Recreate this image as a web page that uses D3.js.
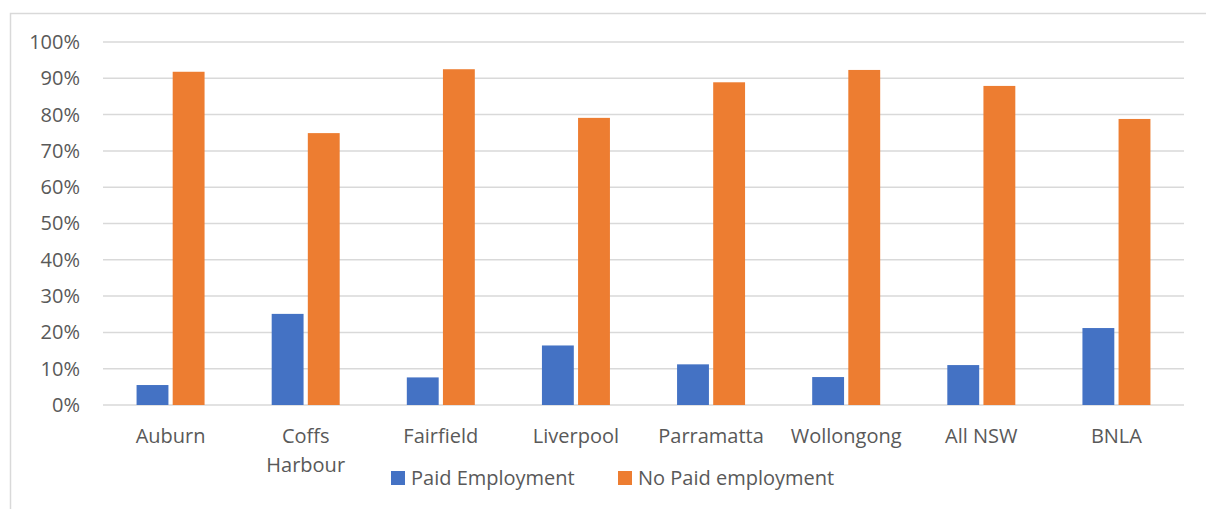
<!DOCTYPE html>
<html>
<head>
<meta charset="utf-8">
<script src="https://cdn.jsdelivr.net/npm/d3@7"></script>
<style>
  html, body { margin: 0; padding: 0; background: #fff; }
  svg { display: block; }
  text { font-family: "Open Sans", Lato, sans-serif; fill: #595959; }
</style>
</head>
<body>
<svg id="chart" width="1206" height="509"></svg>
<script>
const categories = ["Auburn", "Coffs Harbour", "Fairfield", "Liverpool", "Parramatta", "Wollongong", "All NSW", "BNLA"];
const categoryLines = [["Auburn"], ["Coffs", "Harbour"], ["Fairfield"], ["Liverpool"], ["Parramatta"], ["Wollongong"], ["All NSW"], ["BNLA"]];
const seriesNames = ["Paid Employment", "No Paid employment"];
const paidEmployment = [5.5, 25.1, 7.6, 16.4, 11.2, 7.7, 11.0, 21.2];
const noPaidEmployment = [91.8, 74.9, 92.5, 79.1, 88.9, 92.3, 87.9, 78.8];
const yTicks = [0, 10, 20, 30, 40, 50, 60, 70, 80, 90, 100];
const colors = ["#4472C4", "#ED7D31"];

const FONT = "'Open Sans', Lato, sans-serif";
const svg = d3.select("#chart");
const W = 1206, H = 509;
const margin = { left: 103, right: 22, top: 42, bottom: 104 };
const plotW = W - margin.left - margin.right;
const plotH = H - margin.top - margin.bottom;

// outer frame (top and left edges visible)
svg.append("path")
  .attr("d", `M10.5,${H} L10.5,13.5 L${W},13.5`)
  .attr("fill", "none").attr("stroke", "#d9d9d9").attr("stroke-width", 1.5);

const g = svg.append("g").attr("transform", `translate(${margin.left},${margin.top})`);

const x0 = d3.scaleBand().domain(categories).range([0, plotW]).paddingInner(0).paddingOuter(0);
const x1 = d3.scaleBand().domain(seriesNames).range([x0.bandwidth()/2 - 34, x0.bandwidth()/2 + 34]).paddingInner(8/68);
const y = d3.scaleLinear().domain([0, 100]).range([plotH, 0]);

// gridlines
g.append("g").selectAll("line").data(yTicks).join("line")
  .attr("x1", 0).attr("x2", plotW)
  .attr("y1", d => y(d)).attr("y2", d => y(d))
  .attr("stroke", "#d9d9d9").attr("stroke-width", 1.5);

// y axis labels via d3 axis
const yAxis = g.append("g")
  .call(d3.axisLeft(y).tickValues(yTicks).tickFormat(d => d + "%").tickSize(0).tickPadding(23));
yAxis.select(".domain").remove();
yAxis.selectAll("text").style("font-family", FONT).style("font-size", "20px").attr("fill", "#595959");

// bars
const data = categories.map((c, i) => ({ cat: c, values: [paidEmployment[i], noPaidEmployment[i]] }));
const groups = g.append("g").selectAll("g").data(data).join("g")
  .attr("transform", d => `translate(${x0(d.cat)},0)`);
groups.selectAll("rect").data(d => d.values.map((v, j) => ({ s: seriesNames[j], v, j })))
  .join("rect")
  .attr("x", d => x1(d.s))
  .attr("width", x1.bandwidth())
  .attr("y", d => y(d.v))
  .attr("height", d => y(0) - y(d.v))
  .attr("fill", d => colors[d.j]);

// x axis labels
const xl = g.append("g").selectAll("text").data(categories).join("text")
  .attr("x", d => x0(d) + x0.bandwidth()/2)
  .attr("y", plotH + 38)
  .attr("text-anchor", "middle")
  .style("font-size", "20px");
xl.each(function(d, i) {
  const t = d3.select(this);
  categoryLines[i].forEach((ln, k) => {
    t.append("tspan").attr("x", x0(d) + x0.bandwidth()/2).attr("dy", k === 0 ? 0 : 28.5).text(ln);
  });
});

// legend
const legend = svg.append("g");
const legendX = [391, 618];
seriesNames.forEach((s, i) => {
  legend.append("rect").attr("x", legendX[i]).attr("y", 471).attr("width", 14).attr("height", 14).attr("fill", colors[i]);
  legend.append("text").attr("x", legendX[i] + 20).attr("y", 485).style("font-size", "20px").text(s);
});
</script>
</body>
</html>
